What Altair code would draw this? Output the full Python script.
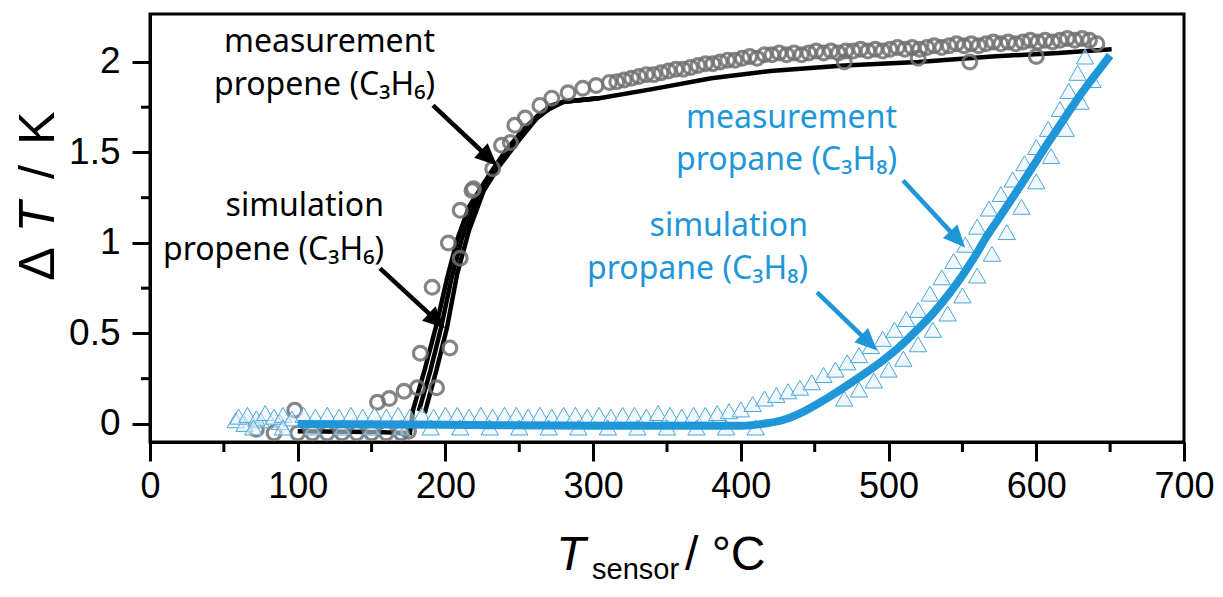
import math
import altair as alt
import pandas as pd

# ---------------- data ----------------
# propene measurement (grey open circles)
propene_meas_T = [72, 84, 98, 100, 110, 120, 130, 140, 150, 160, 170, 175,
                  154, 162, 172, 181, 194,
                  183, 203, 191, 202, 210, 210, 218, 219, 232, 238, 244, 247, 254, 264, 272, 283, 293, 302, 311,
                  316, 321, 326, 331, 336, 341, 346, 351, 356, 361, 366, 371, 376, 381, 386, 391, 396, 401,
                  406, 411, 416, 421, 426, 431, 436, 441, 446, 451, 456, 461, 466, 471, 476, 481, 486, 491,
                  496, 501, 506, 511, 516, 521, 526, 531, 536, 541, 546, 551, 556, 561, 566, 571, 576, 581,
                  586, 591, 596, 601, 606, 611, 616, 621, 626, 631, 636, 641,
                  470, 520, 555, 600]
propene_meas_dT = [-0.03, -0.05, 0.076, -0.05, -0.05, -0.05, -0.05, -0.05, -0.05, -0.05, -0.05, -0.04,
                   0.12, 0.14, 0.18, 0.20, 0.20,
                   0.39, 0.42, 0.755, 1.00, 0.915, 1.18, 1.29, 1.30, 1.41, 1.54, 1.555, 1.65, 1.69, 1.76, 1.80, 1.83, 1.855, 1.87, 1.887,
                   1.89, 1.90, 1.91, 1.92, 1.93, 1.93, 1.94, 1.95, 1.96, 1.96, 1.97, 1.98, 1.99, 1.99, 2.00, 2.01, 2.01, 2.02,
                   2.03, 2.02, 2.04, 2.04, 2.05, 2.04, 2.05, 2.04, 2.05, 2.06, 2.05, 2.06, 2.05, 2.06, 2.06, 2.07, 2.06, 2.07,
                   2.06, 2.07, 2.08, 2.07, 2.08, 2.07, 2.08, 2.09, 2.08, 2.09, 2.10, 2.09, 2.10, 2.09, 2.10, 2.11, 2.10, 2.11,
                   2.10, 2.11, 2.12, 2.11, 2.12, 2.11, 2.12, 2.13, 2.12, 2.13, 2.12, 2.10,
                   2.00, 2.02, 2.00, 2.03]

# propene simulation (black lines, three runs)
propene_sim_a_T = [100, 150, 176, 178, 186, 194, 201, 208, 216, 226, 240, 252, 262, 272, 280, 304, 340, 380, 420, 470, 520, 570, 615, 651]
propene_sim_a_dT = [-0.04, -0.045, -0.05, 0.075, 0.30, 0.55, 0.80, 1.02, 1.20, 1.33, 1.50, 1.62, 1.70, 1.76, 1.78, 1.80, 1.85, 1.91, 1.95, 1.98, 2.00, 2.03, 2.05, 2.07]
propene_sim_b_T = [182, 190, 197, 204, 211, 220, 230, 243, 256, 268, 280, 304]
propene_sim_b_dT = [0.07, 0.30, 0.53, 0.80, 1.02, 1.22, 1.38, 1.53, 1.65, 1.73, 1.78, 1.80]
propene_sim_c_T = [186, 194, 201, 208, 216, 226, 236, 250, 262, 272, 280, 304]
propene_sim_c_dT = [0.06, 0.30, 0.53, 0.83, 1.07, 1.29, 1.42, 1.57, 1.69, 1.75, 1.78, 1.80]

# propane measurement (open triangles), heating and cooling sweeps
propane_meas_T = [58, 64, 75, 88,
                  60, 66, 72, 78, 84, 90, 96, 104, 112, 120, 128, 136, 144, 152, 160, 168, 176, 184, 192, 200,
                  208, 216, 224, 232, 240, 248, 256, 264, 272, 280, 288, 296, 304, 312, 320, 328, 336, 344, 352,
                  360, 368, 376, 384, 392, 400, 408, 416, 424, 432, 440, 448, 456, 464, 472, 480, 488, 496, 504,
                  512, 520, 528, 536, 544, 552, 560, 568, 576, 584, 592, 600, 608, 616, 622, 628, 633,
                  70, 90, 110, 130, 150, 170, 190, 210, 230, 250, 270, 290, 310, 330, 350, 370, 390, 410,
                  470, 480, 490, 500, 510, 520, 530, 540, 550, 560, 570, 580, 590, 600, 610, 620, 630, 638]
propane_meas_dT = [0.02, 0.00, 0.02, 0.01,
                   0.04, 0.05, 0.03, 0.06, 0.04, 0.05, 0.03, 0.05, 0.04, 0.05, 0.04, 0.05, 0.04, 0.05, 0.04, 0.05, 0.04, 0.05, 0.04, 0.05,
                   0.05, 0.04, 0.05, 0.04, 0.05, 0.05, 0.04, 0.05, 0.04, 0.05, 0.05, 0.04, 0.05, 0.04, 0.05, 0.05, 0.04, 0.06, 0.05,
                   0.04, 0.05, 0.05, 0.06, 0.07, 0.08, 0.11, 0.14, 0.16, 0.18, 0.20, 0.23, 0.27, 0.30, 0.34, 0.38, 0.43, 0.47, 0.52,
                   0.58, 0.63, 0.72, 0.81, 0.90, 0.99, 1.09, 1.19, 1.27, 1.35, 1.44, 1.53, 1.63, 1.74, 1.84, 1.94, 2.03,
                   -0.02, -0.02, -0.02, -0.02, -0.02, -0.02, -0.02, -0.02, -0.02, -0.02, -0.02, -0.02, -0.02, -0.02, -0.02, -0.02, -0.02, -0.02,
                   0.14, 0.19, 0.24, 0.30, 0.36, 0.44, 0.52, 0.61, 0.71, 0.82, 0.94, 1.06, 1.20, 1.34, 1.48, 1.63, 1.78, 1.90]

# propane simulation (thick blue line)
propane_sim_T = [100, 200, 300, 400, 415, 428, 440, 456, 474, 485, 496, 508, 519, 530, 542, 550, 558, 566, 575, 592, 609, 620, 632, 641, 650]
propane_sim_dT = [0.0, -0.005, -0.01, -0.01, 0.0, 0.02, 0.058, 0.13, 0.224, 0.285, 0.35, 0.43, 0.517, 0.61, 0.73, 0.82, 0.92, 1.03, 1.14, 1.35, 1.566, 1.70, 1.843, 1.94, 2.036]

# annotation arrows (data coordinates: start -> tip)
arrow_start_T = [191.6, 155.7, 509.8, 451.6]
arrow_start_dT = [1.76, 0.859, 1.345, 0.727]
arrow_tip_T = [234.9, 199.7, 551.8, 492.2]
arrow_tip_dT = [1.428, 0.528, 0.975, 0.406]
arrow_group = ["propene", "propene", "propane", "propane"]

x_ticks = [0, 100, 200, 300, 400, 500, 600, 700]
x_minor = [50, 150, 250, 350, 450, 550, 650]
y_ticks = [0, 0.5, 1, 1.5, 2]
y_minor = [0.25, 0.75, 1.25, 1.75]

# ---------------- styling ----------------
W, H = 1034, 428
X_DOM = [0, 700]
Y_DOM = [-0.1, 2.265]
BLACK = "#000000"
BLUE = "#1e96d8"
GREY = "#707070"
ANN_FONT = "Noto Sans"
AX_FONT = "Liberation Sans"
XL_FONT = "Liberation Sans Narrow, Liberation Sans"

xscale = alt.Scale(domain=X_DOM, nice=False, zero=False)
yscale = alt.Scale(domain=Y_DOM, nice=False, zero=False)
x_axis = alt.Axis(values=x_ticks, tickSize=19, tickWidth=3, tickColor=BLACK, domainWidth=3,
                  domainColor=BLACK, labelFont=XL_FONT, labelFontSize=36, labelColor=BLACK,
                  labelPadding=8, labelFlush=False, labelOverlap=False, grid=False, title=None)
y_axis = alt.Axis(values=y_ticks, format="~g", tickSize=18, tickWidth=3, tickColor=BLACK,
                  domainWidth=3, domainColor=BLACK, labelFont=AX_FONT, labelFontSize=37,
                  labelColor=BLACK, labelPadding=12, labelFlush=False, labelOverlap=False,
                  grid=False, title=None)


def X(field="T"):
    return alt.X(f"{field}:Q", scale=xscale, axis=x_axis)


def Y(field="dT"):
    return alt.Y(f"{field}:Q", scale=yscale, axis=y_axis)


pm = pd.DataFrame({"T": propene_meas_T, "dT": propene_meas_dT})
ps = pd.concat([
    pd.DataFrame({"T": propene_sim_a_T, "dT": propene_sim_a_dT, "run": "a"}),
    pd.DataFrame({"T": propene_sim_b_T, "dT": propene_sim_b_dT, "run": "b"}),
    pd.DataFrame({"T": propene_sim_c_T, "dT": propene_sim_c_dT, "run": "c"}),
])
am = pd.DataFrame({"T": propane_meas_T, "dT": propane_meas_dT})
asim = pd.DataFrame({"T": propane_sim_T, "dT": propane_sim_dT})

# arrows: shorten the shaft a little and compute head orientation in pixel space
px_T = W / (X_DOM[1] - X_DOM[0])
px_dT = H / (Y_DOM[1] - Y_DOM[0])
shafts, heads = [], []
for t1, d1, t2, d2, g in zip(arrow_start_T, arrow_start_dT, arrow_tip_T, arrow_tip_dT, arrow_group):
    dx = (t2 - t1) * px_T
    dy = -(d2 - d1) * px_dT
    L = math.hypot(dx, dy)
    ux, uy = dx / L, dy / L
    back = 12
    shafts.append({"T": t1, "dT": d1, "T2": t2 - back * ux / px_T, "dT2": d2 + back * uy / px_dT,
                   "color": BLACK if g == "propene" else BLUE})
    heads.append({"T": t2, "dT": d2, "angle": math.degrees(math.atan2(dx, -dy)) % 360,
                  "color": BLACK if g == "propene" else BLUE})
shaft_df = pd.DataFrame(shafts)
head_df = pd.DataFrame(heads)

one = pd.DataFrame({"k": [0]})

layers = []

# minor ticks
layers.append(alt.Chart(pd.DataFrame({"dT": y_minor})).mark_rule(color=BLACK, strokeWidth=3).encode(
    y=Y(), x=alt.value(-9), x2=alt.value(0)))
layers.append(alt.Chart(pd.DataFrame({"T": x_minor})).mark_rule(color=BLACK, strokeWidth=3).encode(
    x=X(), y=alt.value(H), y2=alt.value(H + 10)))

# propene simulation lines
layers.append(alt.Chart(ps).mark_line(color=BLACK, strokeWidth=4.5).encode(
    x=X(), y=Y(), detail="run:N", order="T:Q"))
# propene measurement circles
layers.append(alt.Chart(pm).mark_point(shape="circle", filled=False, color=GREY, strokeWidth=3.2,
                                      size=190, opacity=0.85).encode(x=X(), y=Y()))
# propane measurement triangles
layers.append(alt.Chart(am).mark_point(shape="triangle-up", filled=True, fill="#e6f3fb", fillOpacity=0.55,
                                      stroke="#4aa6dc", strokeWidth=1, size=300, opacity=1).encode(x=X(), y=Y()))
# propane simulation line
layers.append(alt.Chart(asim).mark_line(color=BLUE, strokeWidth=8, interpolate="monotone").encode(
    x=X(), y=Y(), order="T:Q"))

# arrows
layers.append(alt.Chart(shaft_df).mark_rule(strokeWidth=4.5).encode(
    x=X(), y=Y(), x2="T2:Q", y2="dT2:Q", color=alt.Color("color:N", scale=None)))
layers.append(alt.Chart(head_df).mark_point(shape="M0,0L-0.9,2L0.9,2Z", filled=True, size=484, opacity=1,
                                           strokeWidth=0).encode(
    x=X(), y=Y(), angle=alt.Angle("angle:Q", scale=None), color=alt.Color("color:N", scale=None)))

# annotation labels (pixel positions relative to plot area)
labels = [
    ("measurement", 285, 38, BLACK),
    ("propene (C₃H₆)", 285, 81, BLACK),
    ("simulation", 234, 202, BLACK),
    ("propene (C₃H₆)", 234, 246, BLACK),
    ("measurement", 747, 114, BLUE),
    ("propane (C₃H₈)", 747, 156, BLUE),
    ("simulation", 658, 222, BLUE),
    ("propane (C₃H₈)", 658, 265, BLUE),
]
for txt, lx, ly, col in labels:
    layers.append(alt.Chart(one).mark_text(text=txt, font=ANN_FONT, fontSize=32, color=col,
                                           align="right", baseline="alphabetic").encode(
        x=alt.value(lx), y=alt.value(ly)))

# y-axis title: ΔT / K (T italic)
ytitle = [("Δ", 250, "normal"), ("T", 203, "italic"), ("/", 158, "normal"), ("K", 114, "normal")]
for txt, ty, st in ytitle:
    layers.append(alt.Chart(one).mark_text(text=txt, font=AX_FONT, fontSize=50, fontStyle=st, color=BLACK,
                                           angle=270, align="center", baseline="alphabetic").encode(
        x=alt.value(-96), y=alt.value(ty)))

# x-axis title: T_sensor / °C
layers.append(alt.Chart(one).mark_text(text="T", font=AX_FONT, fontSize=48, fontStyle="italic", color=BLACK,
                                       align="center", baseline="alphabetic").encode(
    x=alt.value(421), y=alt.value(556)))
layers.append(alt.Chart(one).mark_text(text="sensor", font=AX_FONT, fontSize=29, color=BLACK,
                                       align="left", baseline="alphabetic").encode(
    x=alt.value(442), y=alt.value(565)))
layers.append(alt.Chart(one).mark_text(text="/ °C", font=AX_FONT, fontSize=48, color=BLACK,
                                       align="left", baseline="alphabetic").encode(
    x=alt.value(535), y=alt.value(556)))

chart = alt.layer(*layers).properties(
    width=W, height=H,
    autosize=alt.AutoSizeParams(type="none"),
    padding={"left": 142, "top": 6, "right": 30, "bottom": 144},
    background="white",
).configure_view(stroke=BLACK, strokeWidth=3)

chart.save("out.html", embed_options={"renderer": "svg", "actions": False})
